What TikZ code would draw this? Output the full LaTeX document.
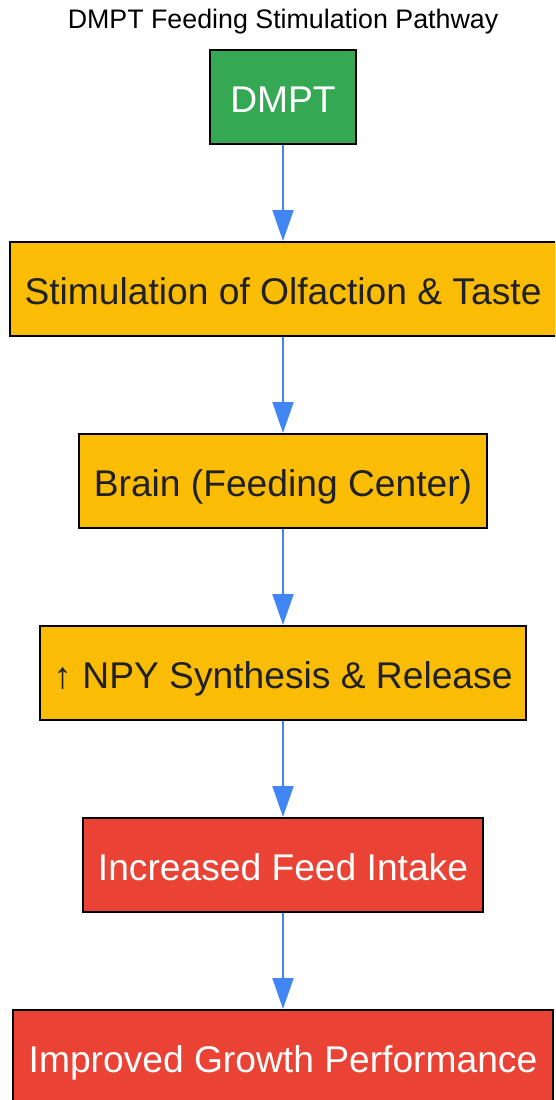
\documentclass[tikz,border=0pt]{standalone}
\usepackage{fontspec}
\setmainfont{Liberation Sans}
\usetikzlibrary{arrows.meta}
\definecolor{dmptgreen}{HTML}{34A853}
\definecolor{stepyellow}{HTML}{FBBC05}
\definecolor{resultred}{HTML}{EA4335}
\definecolor{flowblue}{HTML}{4285F4}
\definecolor{darktext}{HTML}{202124}
\tikzstyle{box} = [rectangle,
minimum height=94pt,
inner xsep=0pt,
text height=34pt,
text depth=4pt,
text centered,
draw=black,
line width=2pt,
font=\fontsize{37.2}{41}\selectfont]
\tikzstyle{source} = [box, fill=dmptgreen, text=white]
\tikzstyle{effect} = [box, fill=stepyellow, text=darktext]
\tikzstyle{result} = [box, fill=resultred, text=white]
\tikzstyle{arrow} = [line width=2pt, draw=flowblue, -{Triangle[length=31pt,width=21pt]}]

\begin{document}
\begin{tikzpicture}[x=1pt, y=1pt, node distance=192pt]
\useasboundingbox (0,0) rectangle (555,-1100);
\clip (0,0) rectangle (555,-1100);

\node (title) at (283,-22) {\fontsize{26.8}{30}\selectfont DMPT Feeding Stimulation Pathway};
\node (dmpt) [source, minimum width=146pt] at (283,-97) {DMPT};
\node (smell) [effect, below of=dmpt, minimum width=546pt] {Stimulation of Olfaction \& Taste};
\node (brain) [effect, below of=smell, minimum width=408pt] {Brain (Feeding Center)};
\node (npy) [effect, below of=brain, minimum width=486pt] {↑ NPY Synthesis \& Release};
\node (intake) [result, below of=npy, minimum width=400pt] {Increased Feed Intake};
\node (growth) [result, below of=intake, minimum width=540pt] {Improved Growth Performance};

\draw [arrow] (dmpt) -- (smell);
\draw [arrow] (smell) -- (brain);
\draw [arrow] (brain) -- (npy);
\draw [arrow] (npy) -- (intake);
\draw [arrow] (intake) -- (growth);

\end{tikzpicture}
\end{document}
